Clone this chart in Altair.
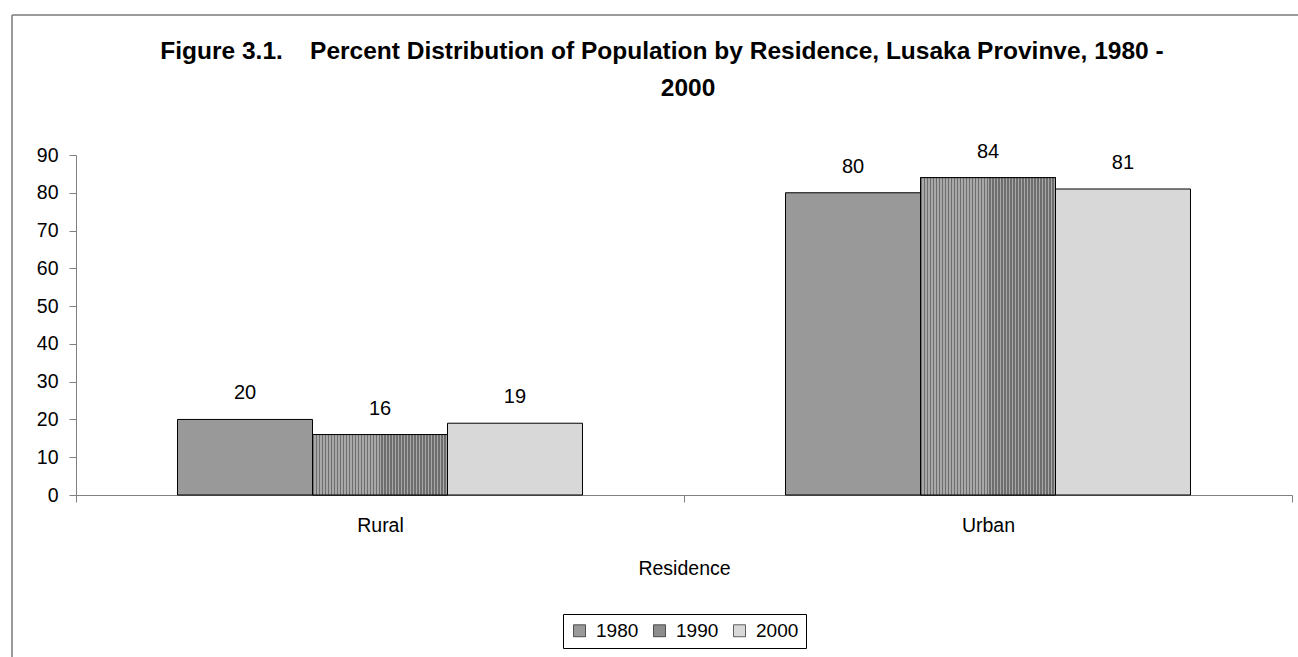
import altair as alt
import pandas as pd

# ---- data ----
categories = ["Rural", "Urban"]
years = ["1980", "1990", "2000"]
values_1980 = [20, 80]
values_1990 = [16, 84]
values_2000 = [19, 81]
y_ticks = [0, 10, 20, 30, 40, 50, 60, 70, 80, 90]
title_line1 = "Figure 3.1.\u00a0\u00a0\u00a0 Percent Distribution of Population by Residence, Lusaka Provinve, 1980 -"
title_line2 = "2000"

rows = []
for yr, vals in zip(years, [values_1980, values_1990, values_2000]):
    for cat, v in zip(categories, vals):
        rows.append({"Residence": cat, "Year": yr, "Percent": v})
df = pd.DataFrame(rows)

FONT = "Liberation Sans"
W, H = 1216, 340
PAD = {"left": 76, "top": 155, "right": 6, "bottom": 162}

# vertical stripe pattern (style) for the 1990 bars
stops = []
n_periods = 45
for i in range(n_periods):
    a = i / n_periods
    b = (i + 0.34) / n_periods
    c = (i + 1) / n_periods
    stops += [
        alt.GradientStop(color="#6e6e6e", offset=a),
        alt.GradientStop(color="#6e6e6e", offset=b),
        alt.GradientStop(color="#a8a8a8", offset=b),
        alt.GradientStop(color="#a8a8a8", offset=c),
    ]
stripe = alt.LinearGradient(gradient="linear", stops=stops, x1=0, x2=1, y1=0, y2=0)

x_enc = alt.X(
    "Residence:N",
    scale=alt.Scale(domain=categories, paddingInner=0, paddingOuter=0),
    axis=alt.Axis(
        title="Residence", labelAngle=0, tickBand="extent", tickSize=7,
        labelPadding=14, titlePadding=25, domainColor="#808080", tickColor="#808080",
        labelFontSize=19.5, titleFontSize=19.5, titleFontWeight="normal",
        labelColor="black", titleColor="black", labelFont=FONT, titleFont=FONT,
    ),
)
y_enc = alt.Y(
    "Percent:Q",
    scale=alt.Scale(domain=[0, 90], nice=False),
    axis=alt.Axis(
        title=None, values=y_ticks, tickSize=7, labelPadding=11, grid=False,
        labelOverlap=False, labelFlush=False,
        domainColor="#808080", tickColor="#808080", labelFontSize=19.5,
        labelColor="black", labelFont=FONT,
    ),
)
xoff = alt.XOffset("Year:N", scale=alt.Scale(domain=years, paddingInner=0, paddingOuter=0.752))

base = alt.Chart(df)

bars = base.mark_bar(stroke="black", strokeWidth=1, opacity=1).encode(
    x=x_enc, y=y_enc, xOffset=xoff,
    color=alt.Color(
        "Year:N",
        scale=alt.Scale(domain=years, range=["#999999", "#8c8c8c", "#d8d8d8"]),
        legend=alt.Legend(
            title=None, orient="none", legendX=487, legendY=459, direction="horizontal",
            strokeColor="black", fillColor="white", padding=7, symbolType="square",
            symbolSize=144, symbolStrokeColor="black", symbolStrokeWidth=0.6,
            symbolOpacity=1, labelFontSize=19, labelFont=FONT, labelColor="black",
            labelOffset=7, columnPadding=11,
        ),
    ),
)

stripes = base.transform_filter(alt.datum.Year == "1990").mark_bar(
    fill=stripe, stroke="black", strokeWidth=1
).encode(x=x_enc, y=y_enc, xOffset=xoff)

labels = base.mark_text(dy=-26, fontSize=20, font=FONT, color="black").encode(
    x=x_enc, y=y_enc, xOffset=xoff, text="Percent:Q"
)

one = pd.DataFrame({"k": [0]})
border_top = alt.Chart(one).mark_rule(color="#7a7a7a", strokeWidth=1.5).encode(
    x=alt.value(-64), x2=alt.value(1222), y=alt.value(-140)
)
border_left = alt.Chart(one).mark_rule(color="#7a7a7a", strokeWidth=1.5).encode(
    x=alt.value(-64), y=alt.value(-140), y2=alt.value(502)
)

t1 = alt.Chart(pd.DataFrame({"t": [title_line1]})).mark_text(
    fontSize=24.5, fontWeight="bold", font=FONT, color="black", align="center", baseline="alphabetic"
).encode(x=alt.value(586), y=alt.value(-96), text="t:N")
t2 = alt.Chart(pd.DataFrame({"t": [title_line2]})).mark_text(
    fontSize=24.5, fontWeight="bold", font=FONT, color="black", align="center", baseline="alphabetic"
).encode(x=alt.value(612), y=alt.value(-59), text="t:N")

chart = alt.layer(bars, stripes, labels, border_top, border_left, t1, t2).properties(
    width=W, height=H, padding=PAD, autosize=alt.AutoSizeParams(type="none"),
    background="white",
).configure_view(stroke=None)

chart.save("out.html", embed_options={"renderer": "svg", "actions": False})
